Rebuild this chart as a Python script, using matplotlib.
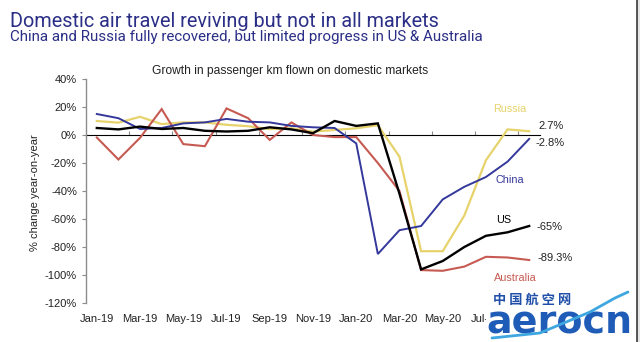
import matplotlib
matplotlib.use("Agg")
import matplotlib.pyplot as plt
from matplotlib.lines import Line2D
from matplotlib.patches import Rectangle

# ---------------- data ----------------
months = ["Jan-19", "Feb-19", "Mar-19", "Apr-19", "May-19", "Jun-19", "Jul-19",
          "Aug-19", "Sep-19", "Oct-19", "Nov-19", "Dec-19", "Jan-20", "Feb-20",
          "Mar-20", "Apr-20", "May-20", "Jun-20", "Jul-20", "Aug-20", "Sep-20"]
china = [15, 12, 4.3, 5, 8.3, 9, 11.5, 9.5, 9, 6.5, 5.5, 5, -6, -85, -68, -65,
         -46, -37, -30, -19, -2.8]
russia = [10, 8.8, 13, 7.8, 9, 9, 7.3, 6.3, 4.2, 4.8, 2.4, 3.6, 4.8, 7, -15.5,
          -83, -83, -57.5, -18, 4, 2.7]
us = [5, 4, 6, 4.3, 5, 3, 2.5, 3, 5.5, 4, 1.3, 10, 6.5, 8.3, -42, -96, -90,
      -80, -72, -69.5, -65]
australia = [-1.8, -17.5, -2, 18.5, -6.5, -8, 19, 12, -3.5, 9, 0, -1.5, -1.5,
             -20, -40, -96.5, -97, -94, -87, -87.5, -89.3]
yticks = [40, 20, 0, -20, -40, -60, -80, -100, -120]
end_labels = ["2.7%", "-2.8%", "-65%", "-89.3%"]
series_names = ["Russia", "China", "US", "Australia"]

NAVY = "#2b2f86"
C_CHINA = "#34389a"
C_RUSSIA = "#e7d36c"
C_US = "#000000"
C_AUS = "#c65a52"
GRAY = "#8c8c8c"
FONT = "Liberation Sans"

plt.rcParams['font.family'] = [FONT, 'DejaVu Sans']

fig = plt.figure(figsize=(6.4, 3.42), dpi=100)
fig.patch.set_facecolor("white")

W, H = 640.0, 342.0
# axes: x from -0.5..20.5 -> px 86..540 ; y 40..-120 -> px 79..303
ax = fig.add_axes([86 / W, 1 - 303 / H, (540 - 86) / W, (303 - 79) / H])
x = list(range(len(months)))

ax.plot(x, russia, color=C_RUSSIA, lw=1.6, solid_joinstyle="miter", zorder=3)
ax.plot(x, australia, color=C_AUS, lw=1.5, solid_joinstyle="miter", zorder=3)
ax.plot(x, china, color=C_CHINA, lw=1.4, solid_joinstyle="miter", zorder=4)
ax.plot(x, us, color=C_US, lw=1.7, solid_joinstyle="miter", zorder=5)

ax.set_xlim(-0.5, len(months) - 0.5)
ax.set_ylim(-120, 40)

for s in ["top", "right", "bottom"]:
    ax.spines[s].set_visible(False)
ax.spines["left"].set_color(GRAY)
ax.spines["left"].set_linewidth(1.0)

ax.set_yticks(yticks)
ax.set_yticklabels([f"{v}%" for v in yticks])
ax.tick_params(axis="y", direction="out", length=3, width=0.8, color=GRAY,
               pad=3.5, labelsize=8, labelcolor="#222222")

ax.set_xticks(x[::2])
ax.set_xticklabels(months[::2])
ax.tick_params(axis="x", length=0, pad=8, labelsize=8, labelcolor="#222222")

# zero line with boundary ticks
sec = ax.secondary_xaxis(120 / 160)
sec.spines["bottom"].set_color(GRAY)
sec.spines["bottom"].set_linewidth(1.3)
sec.set_xticks([i + 0.5 for i in range(1, len(months) - 1, 2)])
sec.set_xticklabels([])
sec.tick_params(direction="out", length=3, width=0.8, color=GRAY)

# end value labels
end_y = [6.6, -5.7, -65.5, -88]
end_x = [20.45, 20.3, 20.35, 20.4]
for lab, xx, yy in zip(end_labels, end_x, end_y):
    ax.text(xx, yy, lab, fontsize=8, color="#222222", va="center", ha="left",
            clip_on=False)

# series labels
name_pos = [(19.1, 18.6), (19.1, -32), (18.8, -60.7), (19.35, -102)]
name_col = [C_RUSSIA, C_CHINA, C_US, C_AUS]
for n, (xx, yy), c in zip(series_names, name_pos, name_col):
    ax.text(xx, yy, n, fontsize=7.8, color=c, ha="center", va="center",
            clip_on=False)

# titles
def fit_text(t, target_px):
    fig.canvas.draw()
    w = t.get_window_extent(renderer=fig.canvas.get_renderer()).width
    t.set_fontsize(t.get_fontsize() * target_px / w)

t1 = fig.text(10 / W, 1 - 27 / H, "Domestic air travel reviving but not in all markets",
              fontsize=15, color=NAVY, ha="left", va="baseline", family="Roboto")
t2 = fig.text(10 / W, 1 - 41 / H,
              "China and Russia fully recovered, but limited progress in US & Australia",
              fontsize=10.5, color=NAVY, ha="left", va="baseline", family="Roboto")
t3 = fig.text(290 / W, 1 - 74 / H, "Growth in passenger km flown on domestic markets",
              fontsize=8.5, color="#222222", ha="center", va="baseline")
fit_text(t1, 430)
fit_text(t2, 478)
fit_text(t3, 276)

fig.text(35 / W, 1 - 193 / H, "% change year-on-year", rotation=90, fontsize=8,
         color="#222222", ha="center", va="center")

# right border
fig.add_artist(Rectangle((637 / W, 0), 3 / W, 1, transform=fig.transFigure,
                         facecolor="#e6e6e6", edgecolor="none"))
fig.add_artist(Line2D([636.5 / W, 636.5 / W], [0, 1], transform=fig.transFigure,
                      color="#3a3a3a", lw=1.2))

# watermark (covers the last tick labels, as in the source image)
wm = fig.text(486 / W, 1 - 334 / H, "aerocn", fontsize=24, fontweight="bold",
              color="#1f5cb8", ha="left", va="baseline", family="DejaVu Sans",
              zorder=10,
              bbox=dict(boxstyle="square,pad=0.0", facecolor="white",
                        edgecolor="none"))
fit_text(wm, 146)
fig.text(532 / W, 1 - 300 / H, "中 国 航 空 网", fontsize=9.5, fontweight="bold",
         color="#1f4fa8", ha="center", va="center",
         family=["Noto Sans CJK SC", "DejaVu Sans"], zorder=12)
fig.add_artist(Line2D([492 / W, 540 / W, 590 / W, 615 / W, 628 / W],
                      [1 - 338 / H, 1 - 333 / H, 1 - 312 / H, 1 - 298 / H, 1 - 292 / H],
                      transform=fig.transFigure, color="#3fa7e0", lw=2.0,
                      zorder=11, solid_capstyle="round"))

fig.savefig("out.png", dpi=100, facecolor="white")
